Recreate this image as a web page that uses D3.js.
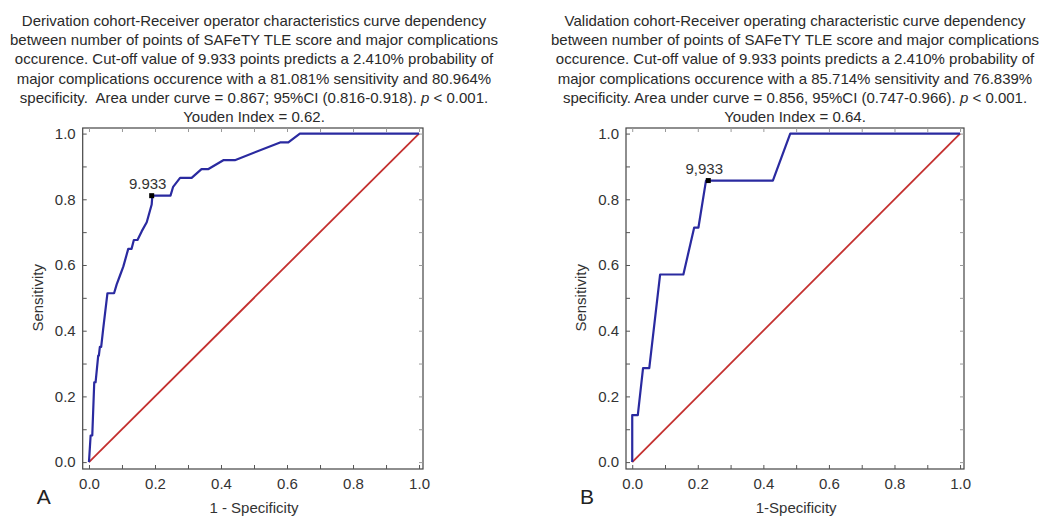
<!DOCTYPE html>
<html>

<head>
    <meta charset="UTF-8">
    <style>
        body { margin: 0; background: #fff; }
        text { font-family: "Liberation Sans", Arial, sans-serif; fill: #333; }
    </style>
</head>

<body>
    <svg></svg>
    <script src="https://d3js.org/d3.v7.min.js"></script>

    <script>

        let width = 1045, height = 517;

        let svg = d3.select("svg")
            .attr("width", width)
            .attr("height", height)

        // Derivation cohort ROC points (1 - specificity, sensitivity)
        const derivFpr = [0, 0.005, 0.010, 0.016, 0.020, 0.028, 0.030, 0.033, 0.037, 0.043, 0.056, 0.076, 0.084, 0.094, 0.104,
            0.119, 0.129, 0.136, 0.147, 0.160, 0.175, 0.190, 0.192, 0.247, 0.255, 0.276, 0.311, 0.341, 0.362, 0.407, 0.442,
            0.579, 0.604, 0.639, 1.0];
        const derivTpr = [0, 0.081, 0.081, 0.243, 0.243, 0.324, 0.324, 0.351, 0.351, 0.405, 0.514, 0.514, 0.541, 0.568, 0.595,
            0.649, 0.649, 0.676, 0.676, 0.703, 0.730, 0.784, 0.811, 0.811, 0.838, 0.865, 0.865, 0.892, 0.892, 0.919, 0.919,
            0.973, 0.973, 1.0, 1.0];

        // Validation cohort ROC points
        const validFpr = [0, 0, 0.017, 0.033, 0.052, 0.085, 0.156, 0.189, 0.202, 0.225, 0.429, 0.482, 1.0];
        const validTpr = [0, 0.143, 0.143, 0.286, 0.286, 0.571, 0.571, 0.714, 0.714, 0.857, 0.857, 1.0, 1.0];

        // cut-off points
        const derivCut = [0.19, 0.811];
        const validCut = [0.232, 0.857];

        const majorTicks = [0, 0.2, 0.4, 0.6, 0.8, 1.0];
        const minorTicks = [0, 0.1, 0.2, 0.3, 0.4, 0.5, 0.6, 0.7, 0.8, 0.9, 1.0];

        const titleA = [
            "Derivation cohort-Receiver operator characteristics curve dependency",
            "between number of points of SAFeTY TLE score and major complications",
            "occurence. Cut-off value of 9.933 points predicts a 2.410% probability of",
            "major complications occurence with a 81.081% sensitivity and 80.964%",
            "specificity.  Area under curve = 0.867; 95%CI (0.816-0.918). <i>p</i> < 0.001.",
            "Youden Index = 0.62."
        ];
        const titleB = [
            "Validation cohort-Receiver operating characteristic curve dependency",
            "between number of points of SAFeTY TLE score and major complications",
            "occurence. Cut-off value of 9.933 points predicts a 2.410% probability of",
            "major complications occurence with a 85.714% sensitivity and 76.839%",
            "specificity. Area under curve = 0.856, 95%CI (0.747-0.966). <i>p</i> < 0.001.",
            "Youden Index = 0.64."
        ];

        function drawPanel(opts) {
            let g = svg.append("g");

            let x = d3.scaleLinear().domain([-0.019, 1.012]).range([opts.left, opts.right]);
            let y = d3.scaleLinear().domain([-0.021, 1.017]).range([469, 128]);

            // title
            let title = g.append("text")
                .attr("text-anchor", "middle")
                .style("font-size", "15px")
                .style("fill", "#2a2a2a")
                .style("white-space", "pre");
            opts.title.forEach((line, i) => {
                let t = title.append("tspan")
                    .attr("x", opts.titleX)
                    .attr("y", 26 + i * 19.2);
                let parts = line.split(/<i>|<\/i>/);
                parts.forEach((p, j) => {
                    t.append("tspan").style("font-style", j % 2 ? "italic" : "normal").text(p);
                });
            });

            // frame
            g.append("rect")
                .attr("x", opts.left).attr("y", 128)
                .attr("width", opts.right - opts.left).attr("height", 469 - 128)
                .attr("fill", "none")
                .attr("stroke", "#444")
                .attr("stroke-width", 1.2);

            // axes (ticks inward)
            g.append("g")
                .attr("transform", "translate(0,469)")
                .call(d3.axisBottom(x).tickValues(minorTicks).tickSize(-4).tickFormat(""))
                .call(a => a.select(".domain").remove())
                .call(a => a.selectAll("line").attr("stroke", "#555"));
            g.append("g")
                .attr("transform", "translate(0,128)")
                .call(d3.axisTop(x).tickValues(minorTicks).tickSize(-4).tickFormat(""))
                .call(a => a.select(".domain").remove())
                .call(a => a.selectAll("line").attr("stroke", "#999"));
            g.append("g")
                .attr("transform", "translate(" + opts.left + ",0)")
                .call(d3.axisLeft(y).tickValues(minorTicks).tickSize(-4).tickFormat(""))
                .call(a => a.select(".domain").remove())
                .call(a => a.selectAll("line").attr("stroke", "#555"));
            g.append("g")
                .attr("transform", "translate(" + opts.right + ",0)")
                .call(d3.axisRight(y).tickValues(minorTicks).tickSize(-4).tickFormat(""))
                .call(a => a.select(".domain").remove())
                .call(a => a.selectAll("line").attr("stroke", "#999"));

            // tick labels
            g.append("g")
                .attr("transform", "translate(0,469)")
                .call(d3.axisBottom(x).tickValues(majorTicks).tickSize(0).tickPadding(9).tickFormat(d3.format(".1f")))
                .call(a => a.select(".domain").remove())
                .call(a => a.selectAll("text").style("font-size", "15px").style("fill", "#333"));
            g.append("g")
                .attr("transform", "translate(" + opts.left + ",0)")
                .call(d3.axisLeft(y).tickValues(majorTicks).tickSize(0).tickPadding(7).tickFormat(d3.format(".1f")))
                .call(a => a.select(".domain").remove())
                .call(a => a.selectAll("text").style("font-size", "15px").style("fill", "#333"));

            // axis titles
            g.append("text")
                .attr("x", (x(0) + x(1)) / 2).attr("y", 513)
                .attr("text-anchor", "middle")
                .style("font-size", "15px")
                .text(opts.xTitle);
            g.append("text")
                .attr("transform", "translate(" + (opts.left - 40) + "," + y(0.5) + ") rotate(-90)")
                .attr("text-anchor", "middle")
                .style("font-size", "15px")
                .text("Sensitivity");

            // panel letter
            g.append("text")
                .attr("x", opts.left - 46).attr("y", 504)
                .style("font-size", "21px")
                .style("fill", "#222")
                .text(opts.letter);

            // reference diagonal
            g.append("path")
                .datum([0, 1])
                .attr("d", d3.line().x(d => x(d)).y(d => y(d)))
                .attr("fill", "none")
                .attr("stroke", "#c4302f")
                .attr("stroke-width", 1.8);

            // ROC curve
            let pts = opts.fpr.map((f, i) => [f, opts.tpr[i]]);
            g.append("path")
                .datum(pts)
                .attr("d", d3.line().x(d => x(d[0])).y(d => y(d[1])))
                .attr("fill", "none")
                .attr("stroke", "#2a2aa0")
                .attr("stroke-width", 2.2)
                .attr("stroke-linejoin", "round");

            // cut-off marker
            g.append("rect")
                .attr("x", x(opts.cut[0]) - 2.5).attr("y", y(opts.cut[1]) - 2.5)
                .attr("width", 5).attr("height", 5)
                .attr("fill", "#000");
            g.append("text")
                .attr("x", x(opts.cut[0]) - 4).attr("y", y(opts.cut[1]) - 7)
                .attr("text-anchor", "middle")
                .style("font-size", "15px")
                .text(opts.cutLabel);
        }

        drawPanel({
            left: 82.7, right: 423, titleX: 254, title: titleA,
            fpr: derivFpr, tpr: derivTpr, cut: derivCut, cutLabel: "9.933",
            xTitle: "1 - Specificity", letter: "A"
        });

        drawPanel({
            left: 626, right: 964, titleX: 795, title: titleB,
            fpr: validFpr, tpr: validTpr, cut: validCut, cutLabel: "9,933",
            xTitle: "1-Specificity", letter: "B"
        });
    </script>

</body>

</html>
